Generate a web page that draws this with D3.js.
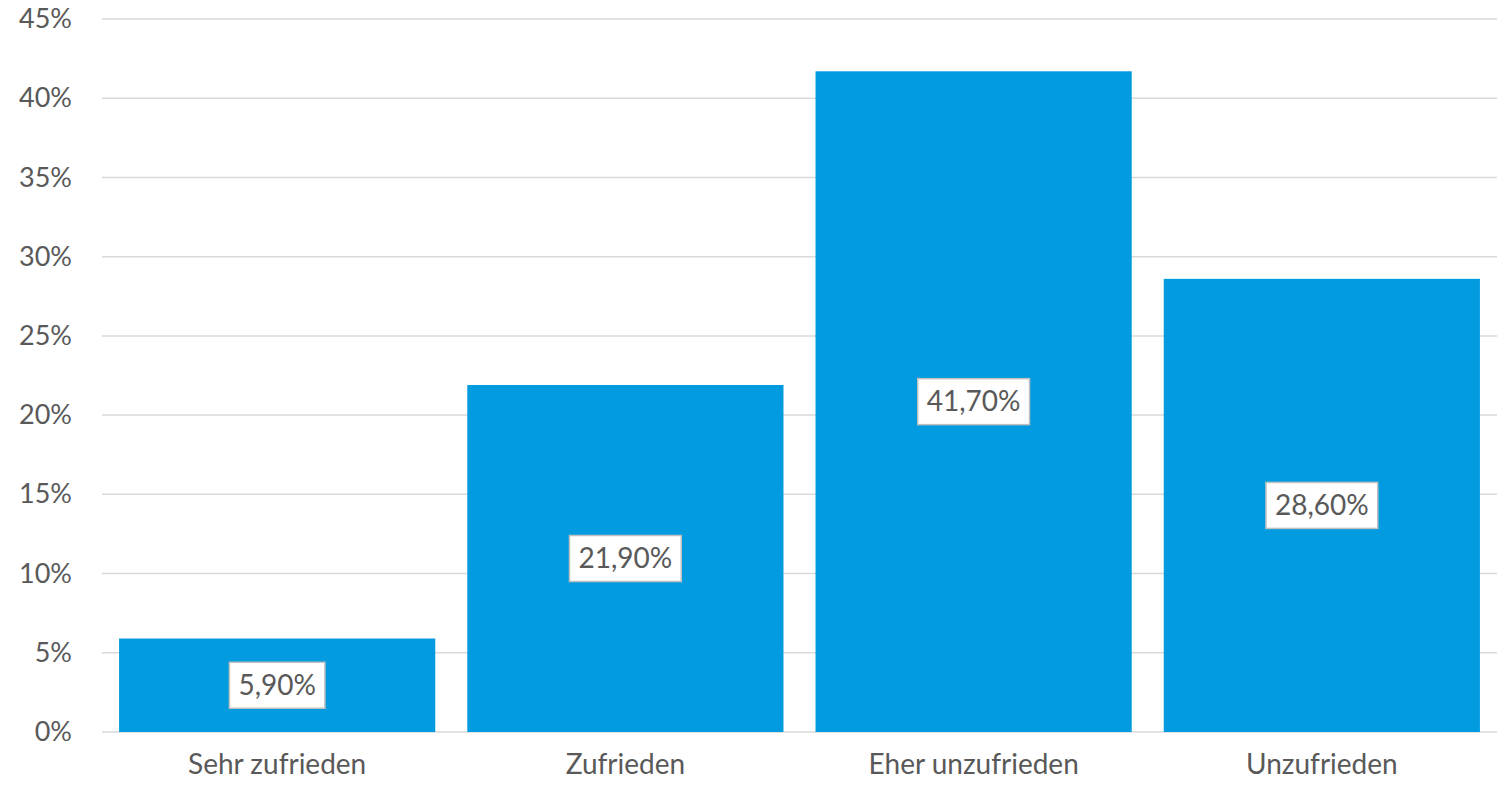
<!DOCTYPE html>
<html>
<head>
<meta charset="utf-8">
<script src="https://cdn.jsdelivr.net/npm/d3@7"></script>
<style>
  body { margin: 0; background: #fff; overflow: hidden; }
  svg { display: block; }
  text { font-family: Lato, "Open Sans", sans-serif; fill: #595959; }
</style>
</head>
<body>
<div id="container"></div>
<script>
/* CONSTANTS AND GLOBALS */
const width = 1504,
  height = 785,
  margin = {top: 19, bottom: 53, left: 102, right: 7},
  innerWidth = width - margin.left - margin.right,
  innerHeight = height - margin.top - margin.bottom;

/* DATA */
const categories = ["Sehr zufrieden", "Zufrieden", "Eher unzufrieden", "Unzufrieden"];
const values = [5.9, 21.9, 41.7, 28.6];
const labels = ["5,90%", "21,90%", "41,70%", "28,60%"];
const yTicks = [0, 5, 10, 15, 20, 25, 30, 35, 40, 45];

const data = categories.map((c, i) => ({category: c, value: values[i], label: labels[i]}));

/* SCALES */
const xScale = d3.scaleBand()
  .domain(categories)
  .range([0, innerWidth])
  .paddingInner(0.092)
  .paddingOuter(0.049);

const yScale = d3.scaleLinear()
  .domain([0, 45])
  .range([innerHeight, 0]);

/* ELEMENTS */
const svg = d3.select("#container")
  .append("svg")
    .attr("width", width)
    .attr("height", height)
  .append("g")
    .attr("transform", `translate(${margin.left},${margin.top})`);

// gridlines
svg.selectAll("line.grid")
  .data(yTicks)
  .join("line")
    .attr("class", "grid")
    .attr("x1", 0)
    .attr("x2", innerWidth)
    .attr("y1", d => yScale(d))
    .attr("y2", d => yScale(d))
    .style("stroke", "#d9d9d9")
    .style("stroke-width", 1.5);

// y axis labels
const yAxis = svg.append("g")
  .call(d3.axisLeft(yScale).tickValues(yTicks).tickFormat(d => d + "%").tickSize(0).tickPadding(30));
yAxis.select(".domain").remove();
yAxis.selectAll("text")
  .attr("font-size", "27px")
  .style("font-family", "Lato, 'Open Sans', sans-serif")
  .style("fill", "#595959");

// bars
svg.selectAll("rect.bar")
  .data(data)
  .join("rect")
    .attr("class", "bar")
    .attr("x", d => xScale(d.category))
    .attr("y", d => yScale(d.value))
    .attr("width", xScale.bandwidth())
    .attr("height", d => innerHeight - yScale(d.value))
    .attr("fill", "#039bdf");

// x axis labels
const xAxis = svg.append("g")
  .attr("transform", `translate(0,${innerHeight})`)
  .call(d3.axisBottom(xScale).tickSize(0).tickPadding(22));
xAxis.select(".domain").remove();
xAxis.selectAll("text")
  .attr("font-size", "28px")
  .style("font-family", "Lato, 'Open Sans', sans-serif")
  .style("fill", "#595959");

// data labels in white boxes
const labelGroups = svg.selectAll("g.bar-label")
  .data(data)
  .join("g")
    .attr("class", "bar-label")
    .attr("transform", d => `translate(${xScale(d.category) + xScale.bandwidth() / 2},${(yScale(d.value) + innerHeight) / 2})`);

labelGroups.append("text")
  .attr("text-anchor", "middle")
  .attr("dy", "0.35em")
  .attr("font-size", "28px")
  .text(d => d.label);

labelGroups.each(function() {
  const g = d3.select(this);
  const bb = g.select("text").node().getBBox();
  g.insert("rect", "text")
    .attr("x", bb.x - 9)
    .attr("y", -23)
    .attr("width", bb.width + 18)
    .attr("height", 46)
    .attr("fill", "#fff")
    .attr("stroke", "#bfbfbf")
    .attr("stroke-width", 1.5);
});
</script>
</body>
</html>
